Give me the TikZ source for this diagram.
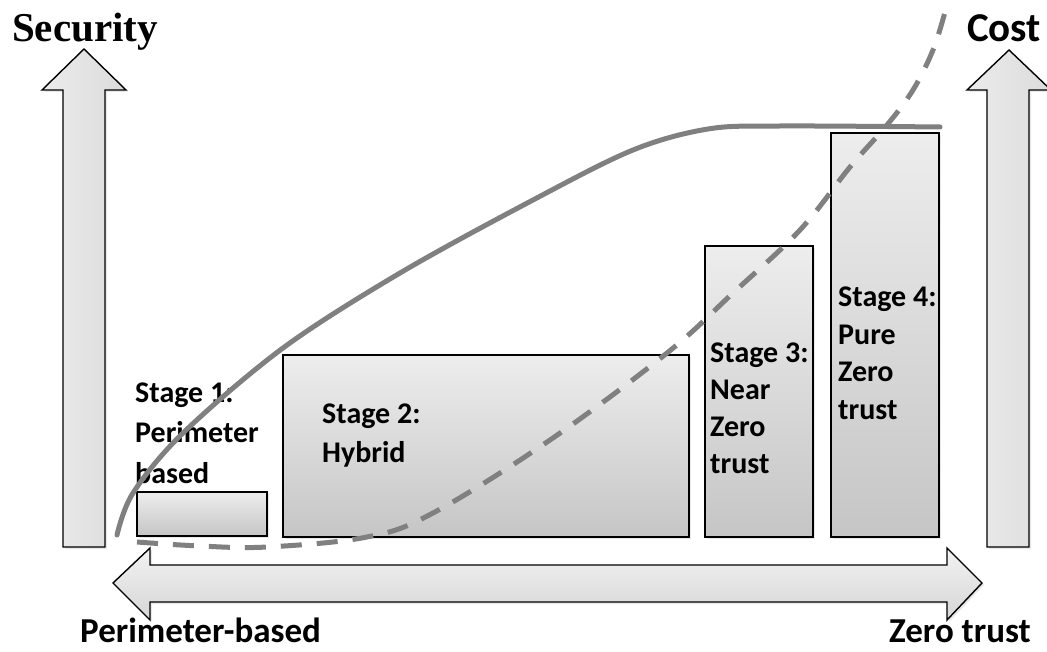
\documentclass[tikz,border=0pt]{standalone}
\usepackage{fontspec}
\setmainfont{Carlito}
\newfontfamily\headserif{Liberation Serif}
\usetikzlibrary{shadows}

\begin{document}
\begin{tikzpicture}[x=1pt,y=-1pt,
    stage box/.style={draw=black,line width=1.4pt,top color=gray!14,bottom color=gray!45,inner sep=0pt,
      drop shadow={opacity=0.18,shadow xshift=2pt,shadow yshift=-2pt}},
    stage text/.style={anchor=base west,inner sep=0pt,align=left,font=\bfseries\fontsize{30}{37.5}\selectfont},
    axis text/.style={anchor=base west,inner sep=0pt,font=\bfseries\fontsize{35}{42}\selectfont},
    block arrow/.style={draw=black,line width=1.4pt,line join=miter,
      drop shadow={opacity=0.18,shadow xshift=2pt,shadow yshift=-2pt}},
    curve/.style={color=gray,line width=5pt}]
  \useasboundingbox (0,0) rectangle (1047,652);

  % axes arrows
  \path[block arrow,left color=gray!15,right color=gray!28]
    (84,49) -- (126,90) -- (105,90) -- (105,547) -- (63,547) -- (63,90) -- (42,90) -- cycle;
  \path[block arrow,left color=gray!15,right color=gray!28]
    (1009,50) -- (1051,90) -- (1029,90) -- (1029,547) -- (987,547) -- (987,90) -- (967,90) -- cycle;
  \path[block arrow,top color=gray!10,bottom color=gray!32]
    (113,583) -- (150,548) -- (150,565) -- (947,565) -- (947,548) -- (982,583)
    -- (947,620) -- (947,602) -- (150,602) -- (150,620) -- cycle;

  % stages
  \node[stage box,minimum width=130pt,minimum height=44pt]  (stage1) at (202,514) {};
  \node[stage box,minimum width=406pt,minimum height=182pt] (stage2) at (486,446) {};
  \node[stage box,minimum width=108pt,minimum height=291pt] (stage3) at (759,391.5) {};
  \node[stage box,minimum width=108pt,minimum height=404pt] (stage4) at (885,335) {};

  \node[stage text,font=\bfseries\fontsize{30}{40.5}\selectfont] (s1text) at (135,483) {Stage 1:\\Perimeter\\based};
  \node[stage text,font=\bfseries\fontsize{30}{39}\selectfont] (s2text) at (322,462) {Stage 2:\\Hybrid};
  \node[stage text,font=\bfseries\fontsize{30}{37}\selectfont] (s3text) at (710,473) {Stage 3:\\Near\\Zero\\trust};
  \node[stage text] (s4text) at (838,419) {Stage 4:\\Pure\\Zero\\trust};

  % security and cost curves
  \draw[curve,line cap=round] plot[smooth,tension=0.55] coordinates {(117,535) (133,493) (183,433) (283,348)
    (400,273) (533,200) (633,150) (708,129) (780,126) (940,127)};
  \draw[curve,dash pattern=on 21pt off 15pt] plot[smooth,tension=0.6] coordinates {(137,542) (200,546) (267,547)
    (367,537) (433,513) (550,440) (667,353) (733,293) (800,230) (850,167) (887,125) (913,90) (933,50) (945,12)};

  % labels
  \node[anchor=base west,inner sep=0pt,font=\headserif\bfseries\fontsize{41}{48}\selectfont] (security) at (12,42) {Security};
  \node[axis text,font=\bfseries\fontsize{41}{48}\selectfont] (cost) at (967,42) {Cost};
  \node[axis text] (perim) at (80,642) {Perimeter-based};
  \node[axis text,anchor=base east] (zero) at (1031,642) {Zero trust};
\end{tikzpicture}
\end{document}
